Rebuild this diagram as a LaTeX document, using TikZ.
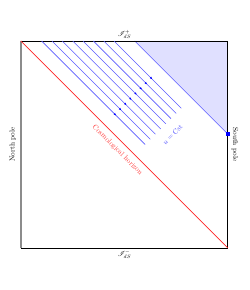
\documentclass[tikz,border=0pt]{standalone}
\usepackage{amsmath}
\usepackage{mathrsfs}
\usetikzlibrary{arrows.meta, calc, decorations.markings}
\definecolor{hfill}{RGB}{224,224,255}
\definecolor{pcol} {RGB}{140,140,140}
\definecolor{ucol} {RGB}{ 90, 90,255}
\tikzset{
  BD/.style={black, line width=1.3pt},
  NP/.style={pcol, line width=2.4pt},
  HZ/.style={red!85, line width=0.9pt},
  UL/.style={draw=ucol, line width=0.8pt},
  UA/.style={UL, postaction={decorate},
    decoration={markings, mark=at position #1 with
      {\arrow[blue]{Latex[length=3.5pt,width=3pt]}}}},
}
\newcommand{\SQ}{10}

\begin{document}
\begin{tikzpicture}
\useasboundingbox (-1.01,-2.03) rectangle (11.02,11.98);

%% ================================================================
%%  PATCH AND BOUNDARIES
%% ================================================================
\coordinate (nb) at (0,0);
\coordinate (nt) at (0,\SQ);
\coordinate (sb) at (\SQ,0);
\coordinate (st) at (\SQ,\SQ);
\coordinate (sp) at (\SQ,5.5);
\coordinate (hs) at (5.5,\SQ);

% shaded corner
\fill[hfill] (hs) -- (st) -- (sp) -- cycle;
\draw[UL] (hs) -- (sp);

% edges
\draw[BD] (nb) -- (sb) -- (st) -- (nt);
\draw[NP] (nb) -- (nt);

% horizon
\draw[HZ] (nt) -- (sb);

% south pole marker
\fill[blue] ($(sp)+(-0.08,-0.08)$) rectangle ($(sp)+(0.08,0.08)$);

%% ================================================================
%%  LINES u = CONST
%% ================================================================
\foreach \a in {1,1.5,...,4.5} {
  \pgfmathsetmacro{\fr}{(8.2-\a)/(11-\a)}
  \pgfmathsetmacro{\te}{(11-\a)/2}
  \draw[UA=\fr] (\a,\SQ) -- (\a+\te,\SQ-\te);
}

%% ================================================================
%%  LABELS
%% ================================================================
\node[rotate=90]  (nlab) at (-0.39,5) {North pole};
\node[rotate=-90] (slab) at (10.34,5) {South pole};
\node (iplus)  at (5,10.3) {$\mathscr{I}^+_{dS}$};
\node (iminus) at (5,-0.3) {$\mathscr{I}^-_{dS}$};
\node[red!80, rotate=-45] (hlab) at (4.66,4.73) {Cosmological horizon};
\node[blue!70, rotate=45] (ulab) at (7.33,5.48) {$u=\mathrm{Cst}$};

\end{tikzpicture}
\end{document}
